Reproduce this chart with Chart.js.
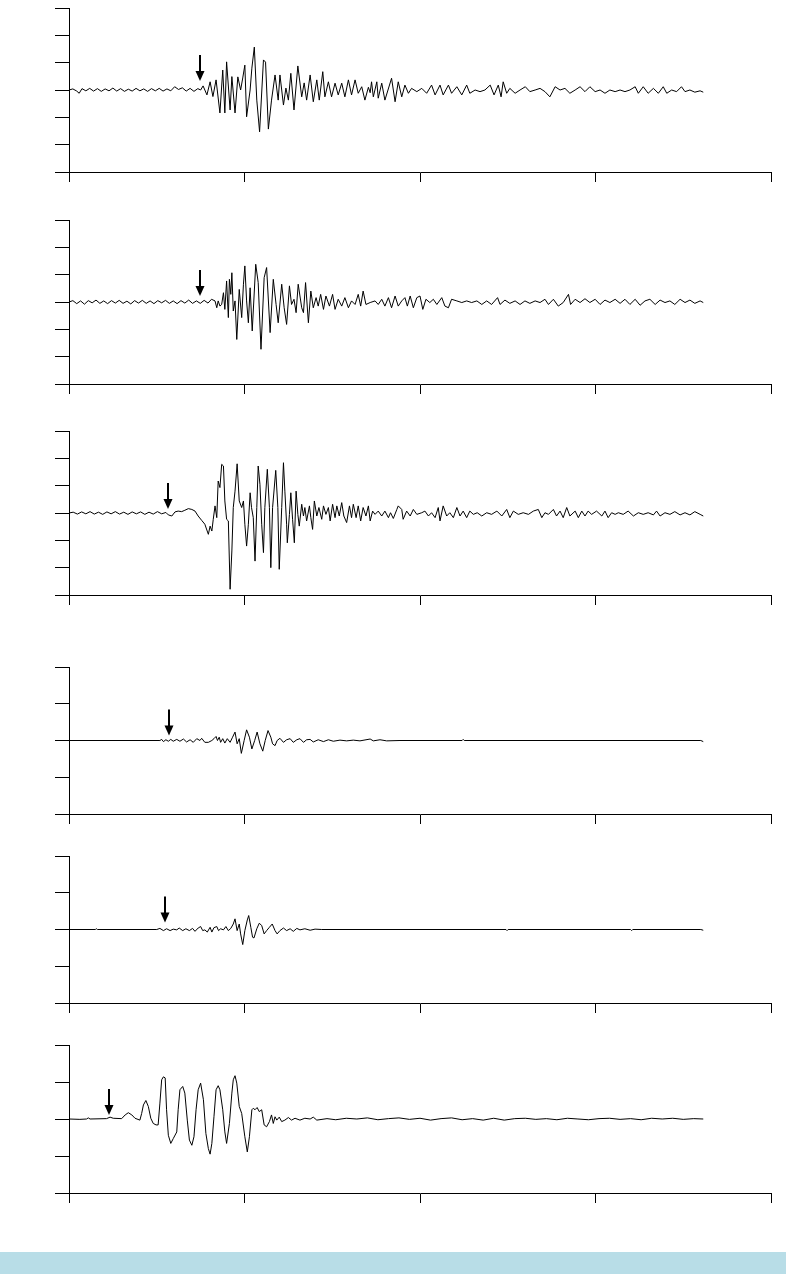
<!DOCTYPE html>
<html>
<head>
<meta charset="utf-8">
<title>Seismograms</title>
<script src="https://cdn.jsdelivr.net/npm/chart.js"></script>
<style>
  html, body { margin: 0; padding: 0; background: #fff; }
  body { width: 786px; height: 1274px; position: relative; overflow: hidden; }
  canvas { position: absolute; left: 0; }
  .footer { position: absolute; left: 0; top: 1252px; width: 786px; height: 22px; background: #b8dde7; }
</style>
</head>
<body>
<canvas id="c1" width="786" height="184" style="top:2px"></canvas>
<canvas id="c2" width="786" height="184" style="top:214px"></canvas>
<canvas id="c3" width="786" height="184" style="top:425px"></canvas>
<canvas id="c4" width="786" height="167" style="top:661px"></canvas>
<canvas id="c5" width="786" height="167" style="top:850px"></canvas>
<canvas id="c6" width="786" height="168" style="top:1039px"></canvas>
<div class="footer"></div>

<script>
// time axis (s) - no labels drawn, only tick marks
const xMax = 200;
const xStep = 50;

// P arrival picks (s), one per trace
const arrivals = [37.3, 37.3, 28.3, 28.6, 27.4, 11.5];

// amplitude half-range per trace
const yLimits = [3, 3, 3, 2, 2, 2];

// traces as [time, amplitude]
const trace1 = [
  [0,0],[1.1,0.04],[2.2,-0.04],[2.9,-0.12],[3.7,0.05],[4.8,-0.03],[5.9,0.06],[7.0,-0.04],[8.1,0.05],[9.2,-0.05],
  [10.3,0.04],[11.4,-0.03],[12.5,0.07],[13.6,-0.04],[14.7,0.05],[15.8,-0.05],[16.9,0.03],[18.0,-0.04],[19.1,0.06],
  [20.2,-0.03],[21.3,0.04],[22.4,-0.05],[23.5,0.05],[24.6,-0.03],[25.7,0.06],[26.8,-0.04],[27.9,0.04],[29.0,-0.03],
  [30.1,0.12],[31.2,0.02],[32.3,0.08],[33.4,-0.04],[34.5,0.06],[35.6,-0.05],[36.7,0.05],[37.5,0.0],[38.2,0.15],
  [39.3,-0.18],[40.2,0.30],[41.0,-0.24],[41.9,0.37],[43.0,-0.84],[43.8,0.73],[44.4,-0.84],[44.9,1.03],[45.9,-0.73],
  [46.4,0.49],[47.3,-0.84],[48.1,0.48],[48.9,0.0],[49.5,0.44],[50.1,0.91],[50.6,-0.98],[51.6,0.0],[52.1,0.8],
  [52.8,1.57],[53.5,-0.37],[54.3,-1.53],[55.4,1.10],[56.0,1.02],[56.8,-1.43],[57.7,-0.37],[58.7,0.55],[59.6,-0.37],
  [60.1,0.55],[61.1,-0.55],[61.8,0.07],[62.5,-0.37],[63.2,0.61],[64.1,-0.73],[65.2,0.88],[66.3,-0.25],[67.0,0.26],
  [67.7,-0.37],[68.7,0.55],[69.6,-0.43],[70.6,0.37],[71.3,-0.37],[72.3,0.67],[72.9,-0.25],[73.9,0.30],[74.8,-0.25],
  [75.8,0.25],[76.7,-0.18],[77.7,0.25],[78.6,-0.25],[79.6,0.37],[80.5,-0.18],[81.5,0.37],[82.4,-0.12],[83.4,0.12],
  [84.3,-0.37],[85.3,0.1],[85.8,-0.1],[86.2,0.30],[86.7,-0.25],[87.7,0.30],[88.1,-0.30],[89.1,0.25],[90.0,-0.37],
  [91.9,0.43],[92.9,-0.43],[93.8,0.30],[94.8,-0.25],[95.7,0.18],[96.7,-0.12],[97.6,0.06],[99.1,-0.06],[100.5,0.06],
  [101.9,-0.12],[103.3,0.18],[104.3,-0.18],[105.7,0.18],[106.6,-0.18],[108.1,0.18],[109.0,-0.12],[110.5,0.12],
  [111.9,-0.18],[113.3,0.18],[114.2,-0.12],[115.7,0],[117.1,-0.06],[118.5,0],[120.0,0.18],[121.1,-0.18],[122.3,0.18],
  [123.1,-0.25],[123.7,0.30],[124.7,-0.12],[125.6,0.06],[127.1,-0.12],[128.5,0],[130.0,0.12],[131.3,-0.06],[132.8,0],
  [134.2,0.06],[135.6,-0.06],[137.0,-0.25],[138.5,0.12],[139.9,0],[141.3,0.06],[142.7,-0.12],[144.2,0],[145.6,0.12],
  [147.0,-0.06],[148.4,0.12],[149.9,-0.06],[151.3,0],[152.7,-0.12],[154.1,0],[155.6,-0.06],[157.0,0],[158.4,-0.06],
  [159.8,0],[161.3,0.12],[162.2,-0.12],[163.6,0.12],[165.0,-0.12],[166.5,0.06],[167.9,-0.12],[169.3,0.12],
  [170.3,-0.12],[171.7,0],[173.1,-0.06],[174.5,0.12],[175.5,-0.06],[176.9,0],[178.3,-0.08],[179.8,-0.03],[180.7,-0.08]
];

const trace2 = [
  [0,0],[1.1,0.05],[2.2,-0.06],[3.3,0.04],[4.4,-0.08],[5.5,0.05],[6.6,-0.03],[7.7,0.07],[8.8,-0.05],[9.9,0.04],
  [11.0,-0.06],[12.1,0.05],[13.2,-0.04],[14.3,0.06],[15.4,-0.05],[16.5,0.03],[17.6,-0.07],[18.7,0.05],[19.8,-0.04],
  [20.9,0.06],[22.0,-0.05],[23.1,0.04],[24.2,-0.06],[25.3,0.05],[26.4,-0.03],[27.5,0.06],[28.6,-0.05],[29.7,0.04],
  [30.8,-0.06],[31.9,0.05],[33.0,-0.04],[34.1,0.07],[35.2,-0.05],[36.3,0.04],[37.4,-0.05],[38.5,0.06],[39.6,-0.04],
  [40.6,0.10],[41.6,0.04],[42.1,-0.21],[42.5,0.04],[43.0,-0.15],[43.5,-0.09],[44.0,0.34],[44.4,-0.27],[44.9,0.77],
  [45.4,-0.57],[45.7,0.83],[46.1,0.28],[46.4,1.07],[46.8,-0.33],[47.3,0.04],[47.8,-1.37],[48.5,0.46],[49.2,-0.57],
  [49.7,0.65],[50.1,1.32],[50.6,0.04],[51.1,-0.76],[51.6,0.52],[52.2,-1.06],[53.2,1.38],[53.9,0.71],[54.7,-1.73],
  [55.6,0.89],[56.3,1.26],[57.3,-1.12],[58.2,0.83],[59.0,-0.09],[59.6,-0.76],[60.6,0.65],[61.3,-0.21],[62.0,-0.82],
  [62.8,0.59],[63.4,-0.09],[64.1,0.10],[64.7,-0.39],[65.3,0.65],[66.3,-0.21],[66.8,-0.39],[67.4,0.71],[68.2,-0.76],
  [68.9,0.40],[69.6,-0.21],[70.4,0.16],[71.0,-0.15],[71.7,0.28],[72.5,-0.27],[73.2,0.22],[74.2,-0.15],[75.1,0.28],
  [75.8,-0.27],[76.7,0.10],[77.7,-0.15],[78.6,0.16],[79.6,-0.21],[80.5,0.04],[81.5,-0.09],[82.4,0.28],[83.1,-0.15],
  [83.8,0.40],[84.6,-0.09],[85.8,-0.02],[87.2,0.04],[88.1,-0.09],[89.1,0.10],[90.0,-0.15],[91.0,0.16],[91.9,-0.21],
  [92.9,0.22],[93.8,-0.15],[94.8,0.04],[95.7,0.16],[96.4,-0.15],[97.2,0.22],[98.1,-0.21],[99.1,0.16],[100.0,0.22],
  [100.8,-0.27],[101.7,0.10],[102.8,-0.02],[103.8,0.10],[104.8,-0.09],[106.2,0.16],[107.1,-0.15],[108.1,-0.21],
  [109.0,0.10],[110.5,0.04],[111.9,-0.02],[113.3,0.04],[114.7,-0.02],[116.2,0.04],[117.6,-0.09],[119.0,0.04],
  [120.4,-0.09],[122.1,0.16],[122.8,-0.09],[124.2,0.07],[125.6,-0.05],[127.1,0.04],[128.5,-0.09],[129.9,0.04],
  [131.3,-0.05],[132.8,0.04],[134.2,-0.02],[135.6,0.10],[136.6,-0.09],[138.0,0.10],[139.4,-0.15],[140.8,-0.02],
  [142.3,0.28],[142.9,-0.09],[144.2,0.10],[145.6,-0.02],[147.0,0.12],[148.4,-0.02],[149.9,0.10],[151.3,-0.09],
  [152.7,0.07],[154.1,-0.02],[155.6,0.10],[157.0,-0.05],[158.4,0.10],[159.8,-0.09],[161.3,0.10],[162.7,-0.12],
  [164.1,0.04],[165.5,0.10],[167.0,-0.09],[168.4,0.07],[169.8,-0.02],[171.2,0.04],[172.6,-0.09],[174.1,0.10],
  [175.5,-0.02],[176.9,0.07],[178.3,-0.05],[179.8,0.04],[180.7,-0.02]
];

const trace3 = [
  [0,0],[1.2,0.03],[2.4,-0.04],[3.6,0.04],[4.8,-0.03],[6.0,0.05],[7.2,-0.04],[8.4,0.03],[9.6,-0.05],[10.8,0.04],
  [12.0,-0.03],[13.2,0.05],[14.4,-0.04],[15.6,0.03],[16.8,-0.05],[18.0,0.04],[19.2,-0.03],[20.4,0.04],[21.6,-0.05],
  [22.8,0.03],[24.0,-0.04],[25.2,0.05],[26.4,-0.03],[27.6,0.02],[28.3,-0.07],[29.3,-0.11],[30.2,0.04],[31.1,0.07],
  [32.1,0.05],[33.0,0.10],[34.0,0.16],[35.0,0.13],[35.9,0.07],[36.8,-0.11],[37.8,-0.27],[38.7,-0.41],[39.7,-0.78],
  [40.2,-0.48],[40.7,-0.66],[41.1,-0.23],[41.6,0.26],[42.1,-0.17],[42.5,1.17],[43.0,0.93],[43.5,1.78],[44.0,1.72],
  [44.4,0.44],[44.9,-0.23],[45.4,-0.29],[45.9,-2.79],[46.4,-1.39],[46.8,0.20],[47.3,0.80],[47.9,1.80],[48.5,0.44],
  [49.2,0.20],[49.7,0.44],[50.1,-0.41],[50.6,-1.21],[51.1,-0.41],[51.6,0.74],[52.0,0.20],[52.5,-0.17],[53.0,-1.76],
  [53.5,0.20],[53.9,1.72],[54.4,1.05],[54.9,-0.41],[55.4,-1.45],[55.8,0.20],[56.5,1.60],[57.1,0.20],[57.5,-2.00],
  [58.0,0.20],[58.9,1.56],[59.5,0.20],[59.9,-2.06],[60.6,0.20],[61.1,1.84],[61.5,0.80],[62.0,-0.41],[62.2,-1.09],
  [62.8,-0.05],[63.2,0.74],[63.7,-0.23],[64.2,-1.09],[64.7,0.80],[65.2,-0.05],[65.6,-0.48],[66.3,0.32],[66.8,-0.11],
  [67.2,0.20],[67.7,-0.29],[68.5,0.26],[68.9,-0.17],[69.4,-0.60],[69.9,0.44],[70.6,-0.11],[71.2,0.20],[72.0,-0.23],
  [72.5,0.26],[73.2,-0.05],[73.9,0.20],[74.4,-0.29],[75.1,0.32],[75.8,-0.17],[76.3,0.26],[77.0,-0.11],[77.7,0.38],
  [78.3,-0.11],[79.1,-0.35],[79.9,0.26],[80.5,-0.17],[81.0,0.32],[81.8,-0.17],[82.4,0.26],[83.1,-0.29],[83.8,0.20],
  [84.6,-0.11],[85.3,0.26],[85.8,-0.29],[86.5,0.07],[87.2,-0.05],[88.1,0.07],[89.1,-0.11],[90.0,0.07],[91.0,-0.17],
  [91.6,0.01],[92.4,-0.20],[93.4,0.13],[93.8,0.26],[94.8,0.13],[95.2,-0.23],[96.2,0.07],[97.2,-0.11],[98.1,0.13],
  [99.1,-0.05],[100.5,0.01],[101.4,0.07],[102.4,-0.11],[103.3,0.01],[104.3,-0.17],[105.2,0.20],[105.7,-0.29],
  [106.6,0.26],[107.6,-0.11],[108.5,0.01],[109.5,-0.17],[110.5,0.20],[111.4,-0.11],[112.3,0.07],[113.3,-0.17],
  [114.2,0.07],[115.2,-0.05],[116.3,0.01],[117.6,-0.11],[119.0,0.01],[120.4,-0.05],[121.9,0.07],[123.3,-0.11],
  [124.7,0.13],[125.6,-0.17],[126.6,0.07],[128.0,-0.05],[129.4,0.01],[130.9,-0.05],[132.3,0.07],[133.7,0.13],
  [134.7,-0.17],[135.6,0.01],[136.6,-0.05],[138.0,0.13],[138.9,-0.11],[139.9,0.07],[140.8,-0.17],[141.8,0.20],
  [142.7,-0.11],[144.2,0.07],[145.1,-0.17],[146.1,0.07],[147.0,-0.11],[147.9,0.07],[148.9,-0.05],[150.3,0.07],
  [151.8,-0.11],[152.7,0.07],[153.6,-0.17],[154.6,0.01],[155.6,-0.05],[156.5,0.01],[157.9,-0.05],[159.3,0.07],
  [160.8,-0.11],[162.2,0.01],[163.6,-0.05],[165.0,0.01],[166.5,-0.07],[167.4,0.07],[168.4,-0.11],[169.8,0.01],
  [171.2,-0.05],[172.6,0.05],[174.1,-0.07],[175.5,0.01],[176.9,-0.07],[178.3,0.05],[179.8,-0.05],[180.7,-0.11]
];

const trace4 = [
  [0,0],[25.9,0],[26.4,0.03],[26.9,-0.03],[27.6,0.02],[28.3,-0.02],[29.0,0.03],[29.7,-0.02],[30.7,0.03],[31.6,-0.02],
  [32.6,0.04],[33.5,-0.04],[34.5,0.02],[35.4,-0.05],[36.4,0.05],[37.3,0],[37.8,0.06],[38.7,-0.05],[39.7,-0.05],
  [40.7,0],[41.3,0.05],[41.9,0.11],[42.3,0],[42.8,0.09],[43.2,-0.05],[43.8,0.05],[44.4,-0.07],[45.1,0.05],
  [45.9,-0.05],[46.6,0.09],[47.3,0.23],[47.9,-0.09],[48.5,0.05],[49.1,-0.35],[49.9,0],[50.6,0.29],[51.4,0.09],
  [52.1,-0.23],[52.9,0],[53.6,0.23],[54.4,-0.09],[55.2,-0.29],[55.9,0],[56.7,0.27],[57.5,0.09],[58.0,-0.09],
  [58.7,-0.14],[59.3,0],[60.1,0.06],[61.1,-0.05],[62.0,0.02],[63.0,0.05],[63.9,-0.05],[64.9,0.02],[65.8,0.05],
  [66.8,-0.05],[67.7,0.02],[68.7,0.03],[69.6,-0.04],[71.0,0.02],[72.5,-0.03],[73.9,0.02],[75.3,-0.02],[77.2,0.01],
  [79.1,-0.01],[81.0,0.01],[82.9,-0.01],[85.8,0.04],[86.7,-0.01],[88.6,0.02],[90.5,-0.01],[94.3,0],[112.0,0],
  [112.3,0.03],[112.6,0],[180.0,0],[180.7,-0.03]
];

const trace5 = [
  [0,0],[7.5,0],[7.8,0.02],[8.1,0],[25.0,0],[25.9,0.03],[26.9,-0.03],[27.8,0.02],[28.8,-0.03],[29.7,0.01],
  [30.7,-0.01],[31.4,0.04],[32.4,-0.03],[33.3,0.02],[34.3,-0.03],[35.2,0.03],[35.9,-0.05],[36.8,0.04],[37.5,0.08],
  [38.1,-0.03],[38.7,-0.01],[39.4,-0.07],[40.2,0.06],[40.7,-0.07],[41.3,0.05],[42.1,0.08],[42.6,-0.03],[43.2,0.02],
  [44.0,-0.01],[44.7,0.08],[45.4,-0.03],[46.1,0.03],[46.8,0.15],[47.3,0.29],[47.9,-0.03],[48.5,0.15],[48.9,-0.12],
  [49.5,-0.41],[50.1,-0.03],[50.8,0.26],[51.2,0.38],[51.8,0.06],[52.3,-0.21],[52.7,-0.23],[53.5,0.02],[54.2,0.17],
  [54.9,0.11],[55.6,-0.12],[56.3,-0.03],[57.1,0.06],[57.9,0.15],[58.7,-0.03],[59.3,-0.12],[60.1,-0.03],[61.1,0.04],
  [62.0,-0.03],[63.0,0.02],[63.9,-0.05],[64.9,0.03],[65.8,-0.01],[67.2,0.02],[68.7,-0.02],[70.1,0.01],[72.0,0],
  [124.5,0],[124.8,-0.03],[125.1,0],[160.0,0],[160.3,-0.03],[160.6,0],[180.0,0],[180.7,-0.02]
];

const trace6 = [
  [0,0],[3.1,-0.01],[5.0,0],[5.5,0.03],[6.0,0],[10.7,0.01],[11.7,0.05],[12.6,0.02],[15.0,0.01],[16.0,0.11],
  [16.9,0.17],[17.9,0.11],[18.8,0.02],[20.2,-0.03],[20.7,0.15],[21.2,0.38],[21.9,0.50],[22.6,0.34],[23.3,0.02],
  [24.0,-0.12],[24.8,-0.16],[25.4,-0.16],[25.9,0.43],[26.4,1.06],[26.9,1.14],[27.4,1.11],[27.8,0.25],[28.3,-0.44],
  [29.0,-0.66],[29.7,-0.53],[30.7,-0.35],[31.1,0.25],[31.6,0.79],[32.4,0.88],[33.0,0.70],[33.7,-0.03],[34.3,-0.57],
  [35.0,-0.71],[35.6,-0.48],[36.2,0.25],[36.8,0.79],[37.5,0.97],[38.3,0.52],[39.0,-0.39],[39.7,-0.80],[40.2,-0.95],
  [40.7,-0.66],[41.3,0.06],[41.9,0.79],[42.5,0.90],[43.0,0.79],[43.8,0.25],[44.4,-0.35],[44.9,-0.66],[45.7,-0.12],
  [46.4,0.70],[46.8,1.06],[47.3,1.17],[47.8,0.97],[48.5,0.34],[49.2,0.15],[50.1,-0.48],[50.8,-0.89],[51.4,-0.48],
  [52.1,0.25],[52.5,0.29],[53.0,0.25],[53.6,0.31],[54.2,0.20],[54.9,0.25],[55.6,-0.16],[56.3,-0.21],[57.1,-0.07],
  [57.7,0.11],[58.2,-0.12],[58.7,0.06],[59.2,-0.03],[59.9,0.05],[60.6,-0.07],[61.5,-0.03],[62.5,0.04],[63.4,-0.03],
  [64.4,0.02],[65.8,-0.03],[67.2,0.02],[68.7,0],[69.6,0.05],[70.6,-0.03],[73.5,0.01],[76.0,-0.02],[79.0,0.02],
  [82.0,0],[85.0,0.03],[88.0,-0.02],[91.0,0.01],[94.0,0.03],[97.0,-0.01],[100.0,0.02],[103.0,-0.03],[106.0,0.01],
  [109.0,0.03],[112.0,-0.02],[115.0,0.01],[118.0,-0.03],[121.0,0.02],[124.0,-0.03],[127.0,0.01],[130.0,0.02],
  [133.0,-0.01],[136.0,0.01],[139.0,-0.02],[142.0,0.02],[145.0,0],[148.0,-0.02],[151.0,0.01],[154.0,0.02],
  [157.0,-0.01],[160.0,0.01],[163.0,-0.02],[166.0,0.02],[169.0,0],[172.0,0.02],[175.0,-0.01],[178.0,0.01],[180.7,0]
];

const traces = [trace1, trace2, trace3, trace4, trace5, trace6];
// how far above the zero line each arrow tip sits (px)
const arrowGaps = [9, 6, 4, 5, 7, 4];

// draws the down-pointing pick arrow at the arrival time
const arrivalArrow = {
  id: 'arrivalArrow',
  afterDatasetsDraw(chart, args, opts) {
    const { ctx, scales: { x, y } } = chart;
    const px = Math.round(x.getPixelForValue(opts.time));
    const tip = y.getPixelForValue(0) - opts.gap;
    ctx.save();
    ctx.strokeStyle = '#000';
    ctx.fillStyle = '#000';
    ctx.lineWidth = 2;
    ctx.beginPath();
    ctx.moveTo(px, tip - 26);
    ctx.lineTo(px, tip - 8);
    ctx.stroke();
    ctx.beginPath();
    ctx.moveTo(px - 4.5, tip - 10);
    ctx.lineTo(px + 4.5, tip - 10);
    ctx.lineTo(px, tip);
    ctx.closePath();
    ctx.fill();
    ctx.restore();
  }
};

traces.forEach((trace, i) => {
  const lim = yLimits[i];
  new Chart(document.getElementById('c' + (i + 1)), {
    type: 'line',
    data: {
      datasets: [{
        data: trace,
        borderColor: '#000',
        borderWidth: 1,
        pointRadius: 0,
        tension: 0,
        fill: false
      }]
    },
    options: {
      responsive: false,
      animation: false,
      events: [],
      layout: { padding: { left: 55, right: 15, top: 6, bottom: 4 } },
      plugins: {
        legend: { display: false },
        tooltip: { enabled: false },
        arrivalArrow: { time: arrivals[i], gap: arrowGaps[i] }
      },
      scales: {
        x: {
          type: 'linear',
          min: 0,
          max: xMax,
          ticks: { display: false, stepSize: xStep },
          grid: { drawOnChartArea: false, tickLength: 10, color: '#000', lineWidth: 1 },
          border: { color: '#000', width: 1 }
        },
        y: {
          min: -lim,
          max: lim,
          ticks: { display: false, stepSize: 1 },
          grid: { drawOnChartArea: false, tickLength: 14, color: '#000', lineWidth: 1 },
          border: { color: '#000', width: 1 }
        }
      }
    },
    plugins: [arrivalArrow]
  });
});
</script>
</body>
</html>
